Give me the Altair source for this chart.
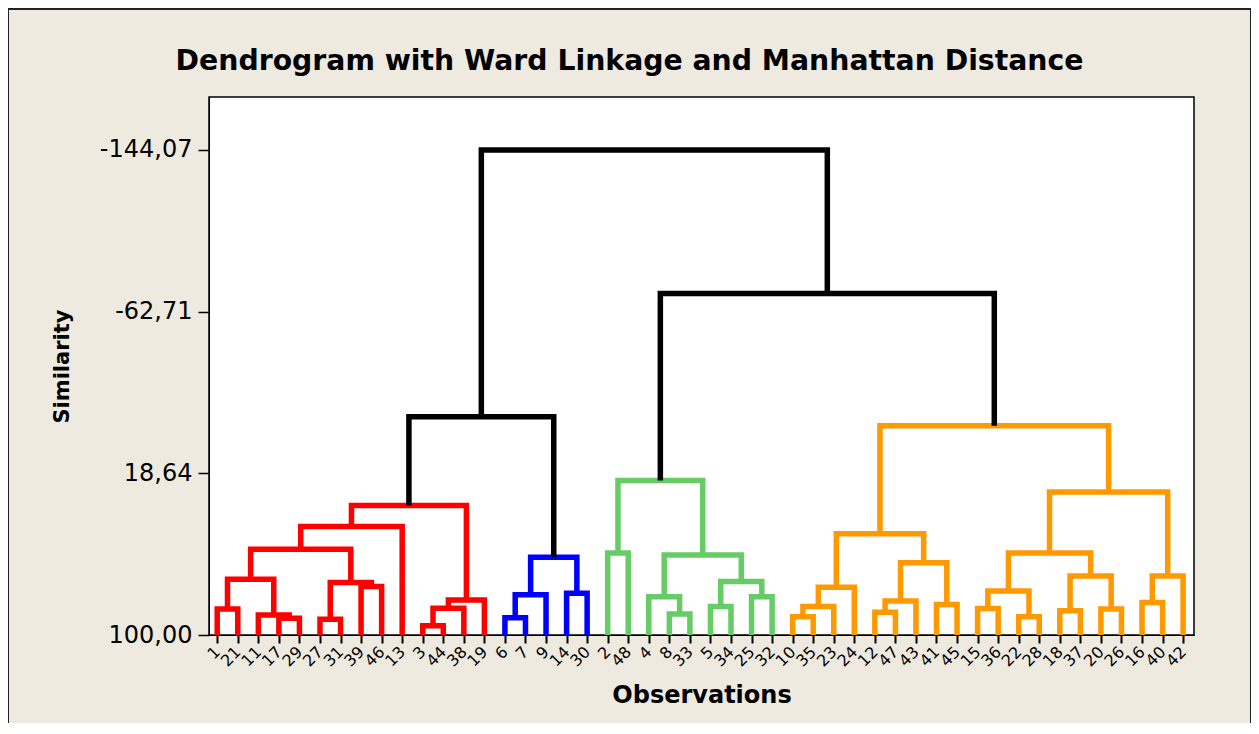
import altair as alt
import pandas as pd

# ---- data ----
LEAVES = [1, 21, 11, 17, 29, 27, 31, 39, 46, 13, 3, 44, 38, 19,
          6, 7, 9, 14, 30,
          2, 48, 4, 8, 33, 5, 34, 25, 32,
          10, 35, 23, 24, 12, 47, 43, 41, 45, 15, 36, 22, 28, 18, 37, 20, 26, 16, 40, 42]

MERGE_NAME = ["R1", "R2", "R3", "R4", "R5", "R6", "R7", "R8", "R9", "R10", "R11", "R12", "R13",
              "B1", "B2", "B3", "B4", "K1",
              "G1", "G2", "G3", "G4", "G5", "G6", "G7", "G8",
              "O1", "O2", "O3", "O4", "O5", "O6", "O7", "O8", "O9", "O10", "O11", "O12", "O13",
              "O14", "O15", "O16", "O17", "O18", "O19", "K2", "K3"]
MERGE_LEFT = [1, 17, 11, "R1", 27, 39, "R5", "R4", "R8", 3, "R10", "R11", "R9",
              6, "B1", 14, "B2", "R13",
              2, 8, 4, 5, 25, "G4", "G3", "G1",
              10, "O1", "O2", 12, "O4", 41, "O5", "O3", 15, 22, "O9", 18, 20,
              "O12", "O11", 16, "O16", "O15", "O8", "G8", "K1"]
MERGE_RIGHT = [21, 29, "R2", "R3", 31, 46, "R6", "R7", 13, 44, 38, 19, "R12",
               7, 9, 30, "B3", "B4",
               48, 33, "G2", 34, 32, "G5", "G6", "G7",
               35, 23, 24, 47, 43, 45, "O6", "O7", 36, 28, "O10", 37, 26,
               "O13", "O14", 40, 42, "O17", "O18", "O19", "K2"]
MERGE_SIM = [86.9, 91.6, 89.9, 71.9, 92.1, 75.6, 73.6, 56.8, 45.4, 95.3, 86.6, 82.4, 34.9,
             91.3, 79.8, 79.0, 60.9, -9.8,
             58.8, 89.4, 80.7, 85.7, 80.7, 73.1, 59.7, 22.3,
             90.8, 85.7, 76.0, 88.6, 82.9, 84.7, 63.6, 49.1, 86.7, 90.8, 77.8, 87.8, 86.9,
             70.3, 58.8, 83.7, 70.3, 28.1, -5.3, -71.8, -144.07]
MERGE_GROUP = ["red"] * 13 + ["blue"] * 4 + ["black"] + ["green"] * 8 + ["orange"] * 19 + ["black", "black"]

GROUPS = ["red", "blue", "green", "orange", "black"]
GROUP_COLORS = ["#FF0000", "#0000FF", "#66CC66", "#FF9900", "#000000"]

Y_TICKS = [100.0, 18.64, -62.71, -144.07]

# ---- build link paths from the tree ----
pos = {leaf: i for i, leaf in enumerate(LEAVES)}
hgt = {leaf: 100.0 for leaf in LEAVES}
rows = []
for name, a, b, h, g in zip(MERGE_NAME, MERGE_LEFT, MERGE_RIGHT, MERGE_SIM, MERGE_GROUP):
    xa, xb = pos[a], pos[b]
    pts = [(xa, hgt[a]), (xa, h), (xb, h), (xb, hgt[b])]
    for k, (px, py) in enumerate(pts):
        rows.append({"link": name, "k": k, "x": px, "y": py, "group": g})
    pos[name] = (xa + xb) / 2.0
    hgt[name] = h
df = pd.DataFrame(rows)

label_expr = "[" + ",".join("'%s'" % v for v in LEAVES) + "][datum.value]"

W, H = 985, 538

links = alt.Chart(df).mark_line(strokeWidth=5.5, strokeJoin="miter", strokeCap="butt").encode(
    x=alt.X("x:Q",
            scale=alt.Scale(domain=[-0.40, 47.53], nice=False, zero=False),
            axis=alt.Axis(values=list(range(len(LEAVES))), labelExpr=label_expr,
                          grid=False, domainColor="black", domainWidth=1,
                          tickColor="black", tickSize=8, tickWidth=2,
                          labelAngle=315, labelAlign="right", labelBaseline="middle",
                          labelFont="DejaVu Sans", labelFontSize=16, labelColor="black",
                          labelPadding=6, labelOverlap=False, labelFlush=False,
                          title="Observations", titleFont="DejaVu Sans", titleFontSize=24,
                          titleFontWeight="bold", titleColor="black",
                          titleX=W / 2, titleY=67, titleAlign="center",
                          titleBaseline="alphabetic")),
    y=alt.Y("y:Q",
            scale=alt.Scale(domain=[100, -170.7], nice=False, zero=False),
            axis=alt.Axis(values=Y_TICKS,
                          labelExpr="replace(replace(format(datum.value, '.2f'), '.', ','), '\u2212', '-')",
                          grid=False, domainColor="black", domainWidth=1,
                          tickColor="black", tickSize=11, tickWidth=1.5,
                          labelFont="DejaVu Sans", labelFontSize=24, labelColor="black",
                          labelPadding=6,
                          title="Similarity", titleFont="DejaVu Sans", titleFontSize=21,
                          titleFontWeight="bold", titleColor="black",
                          titleAngle=270, titleX=-147, titleY=H / 2,
                          titleAlign="center", titleBaseline="middle")),
    detail="link:N",
    order=alt.Order("k:Q"),
    color=alt.Color("group:N", scale=alt.Scale(domain=GROUPS, range=GROUP_COLORS), legend=None),
)

frame_df = pd.DataFrame({"f": [0]})
frame_left = alt.Chart(frame_df).mark_rule(color="#222222", strokeWidth=2).encode(
    x=alt.value(-201), y=alt.value(-88), y2=alt.value(700))
frame_top = alt.Chart(frame_df).mark_rule(color="#222222", strokeWidth=2).encode(
    x=alt.value(-201), x2=alt.value(1042), y=alt.value(-88))
frame_right = alt.Chart(frame_df).mark_rule(color="#222222", strokeWidth=2).encode(
    x=alt.value(1042), y=alt.value(-88), y2=alt.value(700))

chart = alt.layer(frame_left, frame_top, frame_right, links).properties(
    width=W, height=H,
    title=alt.TitleParams("Dendrogram with Ward Linkage and Manhattan Distance",
                          font="DejaVu Sans", fontSize=28.3, fontWeight="bold", color="black",
                          anchor="middle", dx=-72, offset=-68, frame="group"),
    autosize=alt.AutoSizeParams(type="none"),
    padding={"left": 201, "top": 89, "right": 57, "bottom": 88},
).configure(background="#EEEAE0").configure_view(stroke="black", strokeWidth=1.5, fill="white")

chart.save("out.html", embed_options={"renderer": "svg", "actions": False})
